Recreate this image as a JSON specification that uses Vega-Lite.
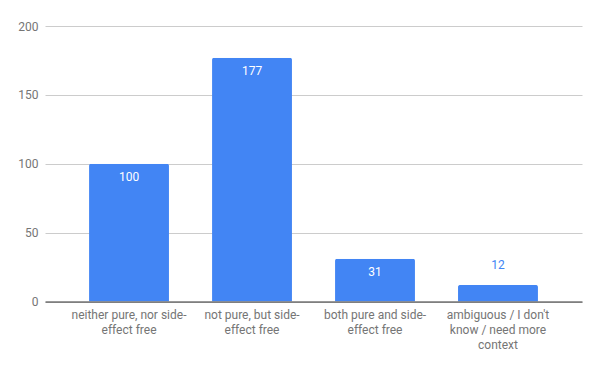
{
  "$schema": "https://vega.github.io/schema/vega-lite/v6.json",
  "autosize": {"type": "none"},
  "width": 537,
  "height": 275.5,
  "padding": {"left": 45, "top": 26, "right": 18, "bottom": 69.5},
  "background": "white",
  "config": {
    "view": {"stroke": null},
    "font": "Roboto",
    "text": {"font": "Roboto"}
  },
  "data": {
    "values": [
      {"category": "neither pure, nor side-effect free", "count": 100},
      {"category": "not pure, but side-effect free", "count": 177},
      {"category": "both pure and side-effect free", "count": 31},
      {"category": "ambiguous / I don't know / need more context", "count": 12}
    ]
  },
  "encoding": {
    "x": {
      "field": "category",
      "type": "nominal",
      "sort": null,
      "scale": {"paddingInner": 0.35, "paddingOuter": 0.358},
      "axis": {
        "title": null,
        "labelAngle": 0,
        "labelFont": "Roboto",
        "labelFontSize": 12,
        "labelColor": "#757575",
        "labelLineHeight": 15,
        "labelPadding": 8,
        "labelBaseline": "top",
        "ticks": false,
        "domainColor": "#333333",
        "domainWidth": 1,
        "zindex": 1,
        "labelExpr": "datum.value == 'neither pure, nor side-effect free' ? ['neither pure, nor side-', 'effect free'] : datum.value == 'not pure, but side-effect free' ? ['not pure, but side-', 'effect free'] : datum.value == 'both pure and side-effect free' ? ['both pure and side-', 'effect free'] : ['ambiguous / I don\\'t', 'know / need more', 'context']"
      }
    },
    "y": {
      "field": "count",
      "type": "quantitative",
      "scale": {"domain": [0, 200]},
      "axis": {
        "title": null,
        "values": [0, 50, 100, 150, 200],
        "domain": false,
        "ticks": false,
        "labelFont": "Roboto",
        "labelFontSize": 12,
        "labelColor": "#757575",
        "labelPadding": 7,
        "gridColor": "#cccccc",
        "gridWidth": 1
      }
    }
  },
  "layer": [
    {
      "mark": {"type": "bar", "color": "#4285F4", "cornerRadiusTopLeft": 2, "cornerRadiusTopRight": 2}
    },
    {
      "transform": [{"filter": "datum.count >= 20"}],
      "mark": {"type": "text", "color": "#ffffff", "fontSize": 12, "baseline": "middle", "dy": 13},
      "encoding": {"text": {"field": "count", "type": "quantitative"}}
    },
    {
      "transform": [{"filter": "datum.count < 20"}],
      "mark": {"type": "text", "color": "#4285F4", "fontSize": 12, "baseline": "middle", "dy": -19.5},
      "encoding": {"text": {"field": "count", "type": "quantitative"}}
    }
  ]
}
